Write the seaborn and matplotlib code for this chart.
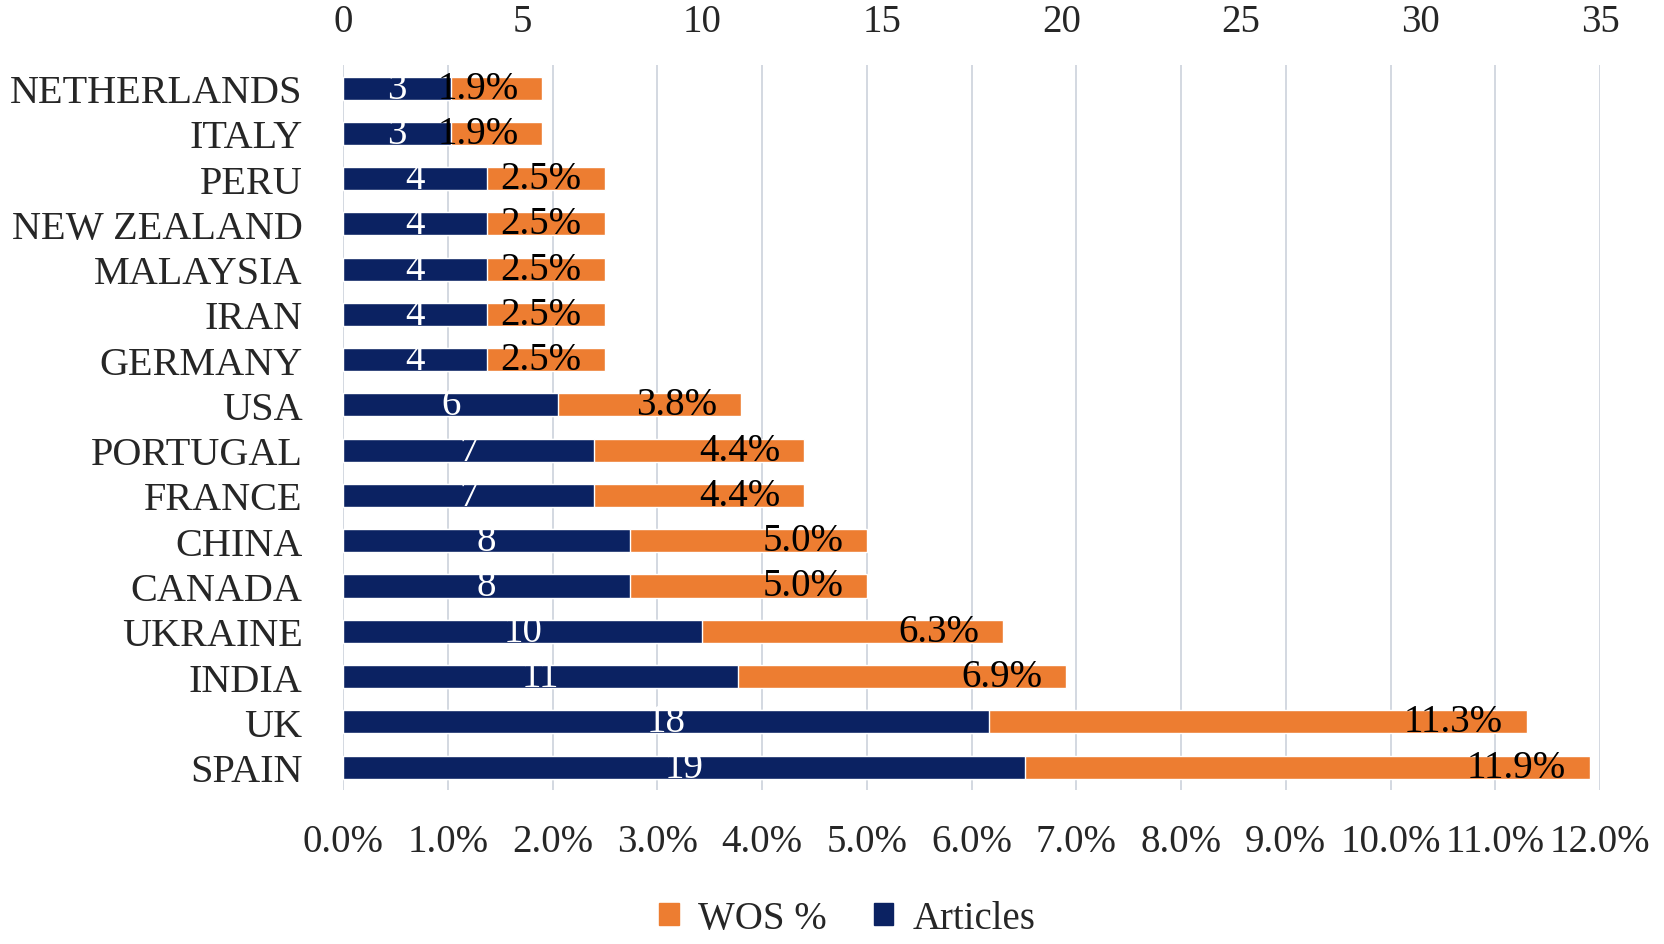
import matplotlib
matplotlib.use("Agg")
import matplotlib.pyplot as plt
from matplotlib.patches import Patch
import pandas as pd
import seaborn as sns

sns.set_style("white")
plt.rcParams["font.family"] = ["Liberation Serif", "DejaVu Serif"]

# %% data (top to bottom as in the chart)
countries = ["NETHERLANDS", "ITALY", "PERU", "NEW ZEALAND", "MALAYSIA", "IRAN",
             "GERMANY", "USA", "PORTUGAL", "FRANCE", "CHINA", "CANADA",
             "UKRAINE", "INDIA", "UK", "SPAIN"]
articles = [3, 3, 4, 4, 4, 4, 4, 6, 7, 7, 8, 8, 10, 11, 18, 19]
wos_pct = [1.9, 1.9, 2.5, 2.5, 2.5, 2.5, 2.5, 3.8, 4.4, 4.4, 5.0, 5.0, 6.3, 6.9, 11.3, 11.9]

df = pd.DataFrame({"country": countries, "articles": articles, "wos": wos_pct})

ORANGE = "#ED7D31"
NAVY = "#0B2262"
FS = 28

# %%
fig = plt.figure(figsize=(16.65, 9.45), dpi=100)
ax = fig.add_axes([0.206, 0.1633, 0.755, 0.7664])

# orange bars on the bottom (percent) axis
sns.barplot(data=df, x="wos", y="country", orient="h", color=ORANGE,
            width=0.51, saturation=1, ax=ax, zorder=2)
ax.set_xlim(0, 12)
ax.set_xticks(range(0, 13))
ax.set_xticklabels([f"{v:.1f}%" for v in range(0, 13)])
ax.grid(axis="x", color="#D0D5DE", linewidth=1.3, zorder=0)
ax.set_axisbelow(True)

# navy bars on the top (articles) axis
ax2 = ax.twiny()
sns.barplot(data=df, x="articles", y="country", orient="h", color=NAVY,
            width=0.51, saturation=1, ax=ax2, zorder=3)
ax2.set_xlim(0, 35)
ax2.set_xticks(range(0, 36, 5))
ax2.grid(False)
ax2.bar_label(ax2.containers[0], labels=[str(a) for a in articles],
              label_type="center", color="white", fontsize=FS)

for i, p in enumerate(wos_pct):
    ax2.annotate(f"{p:.1f}%", xy=(p, i), xycoords=ax.transData,
                 xytext=(-17, 0), textcoords="offset points",
                 ha="right", va="center", fontsize=FS, color="black", zorder=5)

ax.set_ylim(15.5, -0.5)
for a in (ax, ax2):
    a.set_xlabel("")
    a.set_ylabel("")
    for s in a.spines.values():
        s.set_visible(False)

ax.tick_params(axis="x", labelsize=FS, length=0, pad=24)
ax.tick_params(axis="y", labelsize=29, length=0, pad=29)
ax2.tick_params(axis="x", labelsize=FS, length=0, pad=18)
ax2.tick_params(axis="y", length=0)

handles = [Patch(color=ORANGE, label="WOS %"), Patch(color=NAVY, label="Articles")]
fig.legend(handles=handles, loc="center", bbox_to_anchor=(0.509, 0.027), ncol=2,
           frameon=False, fontsize=FS, handlelength=0.5, handleheight=0.5,
           handletextpad=0.5, columnspacing=1.2)

fig.savefig("out.png", dpi=100)
